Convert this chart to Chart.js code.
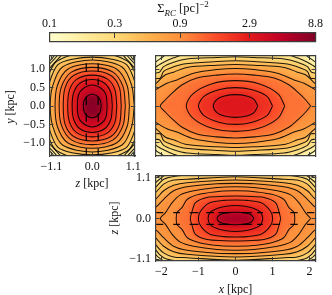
<!DOCTYPE html>
<html>
<head>
<meta charset="utf-8">
<script src="https://cdn.jsdelivr.net/npm/chart.js@4/dist/chart.umd.min.js"></script>
<style>
  html, body { margin: 0; padding: 0; background: #fff; }
  #page { position: relative; width: 332px; height: 295px; overflow: hidden; font-family: "Liberation Serif", serif; color: #111; }
  #page canvas { position: absolute; left: 0; top: 0; }
  .lbl { position: absolute; width: 60px; text-align: center; font-size: 12px; line-height: 12px; white-space: nowrap; }
</style>
</head>
<body>
<div id="page">
  <canvas id="cbar" width="332" height="295"></canvas>
  <canvas id="yz" width="332" height="295"></canvas>
  <canvas id="xy" width="332" height="295"></canvas>
  <canvas id="xz" width="332" height="295"></canvas>
  <div class="lbl" style="left:153px;top:2px;font-size:12.5px">Σ<sub style="font-size:9px;line-height:0"><i>RC</i></sub> [pc]<sup style="font-size:9px;line-height:0">−2</sup></div>
  <div class="lbl" style="left:-20px;top:101px;transform:rotate(-90deg)"><i>y</i> [kpc]</div>
  <div class="lbl" style="left:62px;top:177px"><i>z</i> [kpc]</div>
  <div class="lbl" style="left:84px;top:212px;transform:rotate(-90deg)"><i>z</i> [kpc]</div>
  <div class="lbl" style="left:205.5px;top:283px"><i>x</i> [kpc]</div>
</div>
<script>
// Contour levels (pc^-2), same for all three projections
const levels = [0.1, 0.14, 0.19, 0.26, 0.36, 0.49, 0.68, 0.93, 1.28, 1.76, 2.42, 3.33, 4.58, 6.3, 8.67];

// Colour bar
const barTicks = [0.1, 0.3, 0.9, 2.9, 8.8];
const barColors = ['#ffffcc', '#ffeda0', '#fed976', '#feb24c', '#fd8d3c', '#fc4e2a', '#e31a1c', '#bd0026', '#800026'];

// Tick positions
const ticksYZ_x = [-1.1, 0, 1.1];
const ticksYZ_y = [-1, -0.5, 0, 0.5, 1];
const ticksXY_x = [-2, -1, 0, 1, 2];
const ticksXZ_y = [-1.1, 0, 1.1];

// Quarter contours (first quadrant, kpc), innermost first.
// The maps are mirror symmetric so the other three quarters are flipped copies.
const levelIdxYZ = [13, 11, 10, 9, 8, 7, 6, 5, 4, 3, 2, 1, 0];
const contoursYZ = [
  [[.24,0],[.21,.17],[.12,.28],[0,.32]],
  [[.40,0],[.37,.3],[.25,.47],[0,.57]],
  [[.54,0],[.5,.36],[.33,.62],[0,.72]],
  [[.66,0],[.61,.44],[.41,.73],[0,.84]],
  [[.78,0],[.73,.5],[.5,.83],[0,.95]],
  [[.89,0],[.83,.52],[.56,.92],[0,1.05]],
  [[1.0,0],[.94,.55],[.66,1.0],[0,1.15]],
  [[1.13,0],[1.06,.56],[.8,1.06],[0,1.25]],
  [[1.28,0],[1.17,.58],[.93,1.12],[.5,1.28],[0,1.33]],
  [[1.45,0],[1.26,.62],[1.03,1.14],[.8,1.3],[.4,1.42],[0,1.45]],
  [[1.6,0],[1.36,.75],[1.1,1.08],[.9,1.3],[.7,1.5],[0,1.7]],
  [[1.8,0],[1.5,.8],[1.15,1.14],[.95,1.36],[.8,1.6],[0,1.9]],
  [[2,0],[1.6,.9],[1.15,1.22],[1.03,1.36],[.9,1.7],[0,2.1]],
];

const levelIdxXY = [10, 9, 8, 7, 6, 5, 4, 3, 2, 1];
const contoursXY = [
  [[.6,0],[.5,.18],[.3,.27],[0,.31]],
  [[1.0,0],[.85,.26],[.45,.44],[0,.5]],
  [[1.33,0],[1.15,.33],[.65,.6],[0,.69]],
  [[2.03,0],[1.89,.17],[1.71,.35],[1.44,.58],[1.04,.76],[.5,.84],[0,.87]],
  [[2.8,0],[2.16,.44],[1.85,.62],[1.58,.71],[1.13,.89],[.5,.99],[0,1.02]],
  [[2.8,0],[2.16,.6],[1.89,.85],[1.67,.92],[1.31,1.05],[.5,1.11],[0,1.13]],
  [[2.8,.2],[2.16,.74],[2.03,.76],[1.94,.94],[1.76,1.03],[1.4,1.14],[.5,1.21],[0,1.23]],
  [[2.8,.3],[2.16,.89],[2.05,.92],[1.94,1.07],[1.67,1.19],[1.31,1.28],[.5,1.32],[0,1.34]],
  [[2.8,.4],[2.16,1.05],[1.94,1.19],[1.67,1.31],[1.2,1.45],[0,1.55]],
  [[2.8,.5],[2.16,1.19],[1.98,1.32],[1.8,1.45],[1,1.8],[0,2]],
];

const levelIdxXZ = [12, 10, 9, 8, 7, 6, 6, 5, 4, 3, 2, 1];
const contoursXZ = [
  [[.5,0],[.42,.1],[.26,.15],[0,.17]],
  [[.74,0],[.68,.17],[.48,.28],[.25,.33],[0,.35]],
  [[1.0,0],[.98,.13],[.86,.3],[.68,.43],[.3,.49],[0,.5]],
  [[1.22,0],[1.17,.2],[1.08,.43],[.77,.57],[.3,.6],[0,.61]],
  [[1.6,0],[1.58,.16],[1.44,.3],[1.3,.52],[.95,.66],[.4,.74],[0,.75]],
  [[2.03,0],[1.89,.16],[1.71,.43],[1.49,.64],[1.13,.75],[.5,.84],[0,.86]],
  [[2.8,0],[2.16,.3],[1.94,.52],[1.67,.75],[1.31,.86],[.5,.94],[0,.95]],
  [[2.8,.1],[2.16,.52],[1.94,.75],[1.67,.9],[1.31,.97],[0,1.04]],
  [[2.8,.2],[2.16,.7],[1.94,.93],[1.67,1.04],[1.31,1.06],[0,1.13]],
  [[2.8,.3],[2.16,.84],[1.94,1.06],[1.58,1.15],[1,1.2],[0,1.25]],
  [[2.8,.4],[2.16,.97],[1.94,1.15],[1.6,1.35],[0,1.5]],
  [[2.8,.5],[2.16,1.09],[2.0,1.18],[1.7,1.5],[0,1.8]],
];

// Short contour breaks: vertical at z = +-0.16 in the y-z map (y from, y to)
const breaksYZ = [[.03,.25],[.57,.75],[.93,1.16],[-.43,-.2],[-.93,-.75],[-1.33,-1.15]];
const breakAtZ = [-.16, .16];
// horizontal at z = +-0.16 in the x-z map (x from, x to)
const breaksXZ = [[-2.14,-1.95],[-1.68,-1.5],[-1.24,-1.0],[-.79,-.58],[-.46,-.16],[.17,.44],[.58,.74],[1.0,1.2],[1.48,1.68],[1.93,2.13]];
const breakAtX = [-.16, .16];

const frameColor = '#3d3d3d';
const lineColor = 'rgba(0,0,0,0.88)';
const tickFont = { family: '"Liberation Serif", serif', size: 12 };

function hexToRgb(h) {
  return [1, 3, 5].map(i => parseInt(h.slice(i, i + 2), 16));
}

// colour of a value on the log colour bar
function colorFor(v) {
  const t = Math.log(v / barTicks[0]) / Math.log(barTicks[4] / barTicks[0]);
  const p = Math.min(Math.max(t, 0), 1) * (barColors.length - 1);
  const i = Math.min(Math.floor(p), barColors.length - 2);
  const a = hexToRgb(barColors[i]), b = hexToRgb(barColors[i + 1]);
  const c = a.map((n, k) => Math.round(n + (b[k] - n) * (p - i)));
  return `rgb(${c[0]},${c[1]},${c[2]})`;
}

// colour just below the next level up
function bandColor(idx) {
  const hi = levels[idx + 1] || levels[idx];
  return colorFor(levels[idx] * Math.pow(hi / levels[idx], 0.75));
}

// flip one quarter into a closed loop
function closeLoop(q) {
  const pts = [];
  q.forEach(p => pts.push({ x: p[0], y: p[1] }));
  q.slice(0, -1).reverse().forEach(p => pts.push({ x: -p[0], y: p[1] }));
  q.slice(1).forEach(p => pts.push({ x: -p[0], y: -p[1] }));
  q.slice(1, -1).reverse().forEach(p => pts.push({ x: p[0], y: -p[1] }));
  pts.push({ x: q[0][0], y: q[0][1] });
  return pts;
}

// Fills the nested contours, soft edged, before the lines go on top
const bandFill = {
  id: 'bandFill',
  beforeDatasetsDraw(chart) {
    const area = chart.chartArea;
    const ctx = chart.ctx;
    ctx.save();
    ctx.beginPath();
    ctx.rect(area.left, area.top, area.right - area.left, area.bottom - area.top);
    ctx.clip();
    ctx.fillStyle = colorFor(levels[0]);
    ctx.fillRect(area.left, area.top, area.right - area.left, area.bottom - area.top);
    ctx.filter = 'blur(2.6px)';
    for (let i = chart.data.datasets.length - 1; i >= 0; i--) {
      const ds = chart.data.datasets[i];
      if (!ds.bandColor) continue;
      const line = chart.getDatasetMeta(i).dataset;
      line.updateControlPoints(area, 'x');
      ctx.fillStyle = ds.bandColor;
      ctx.beginPath();
      line.path(ctx);
      ctx.fill();
    }
    ctx.restore();
  }
};

function fixedTicks(values) {
  return scale => { scale.ticks = values.map(v => ({ value: v })); };
}

function tickLabel(v, digits) {
  const s = Math.abs(v).toFixed(digits);
  return v < 0 ? '\u2212' + s : s;
}

function axis(position, range, ticks, size, labelled, pad, digits) {
  return {
    type: 'linear',
    position: position,
    min: -range,
    max: range,
    afterBuildTicks: fixedTicks(ticks),
    afterFit: s => {
      if (position === 'left' || position === 'right') s.width = size;
      else s.height = size;
    },
    border: { display: true, color: frameColor, width: 1.2, z: 2 },
    grid: { drawOnChartArea: false, drawTicks: true, tickLength: -4, tickColor: frameColor, tickWidth: 1, z: 1 },
    ticks: { display: labelled, autoSkip: false, maxRotation: 0, color: '#111', font: tickFont, padding: pad, callback: v => tickLabel(v, digits) },
    title: { display: false }
  };
}

// short straight pieces, one dataset each
function breakSegments(ranges, fixedAt, vertical) {
  const sets = [];
  fixedAt.forEach(f => ranges.forEach(r => {
    sets.push({
      data: r.map(v => (vertical ? { x: f, y: v } : { x: v, y: f })),
      showLine: true,
      tension: 0.001,
      pointRadius: 0,
      borderColor: 'rgba(0,0,0,0.92)',
      borderWidth: 1.3
    });
  }));
  return sets;
}

// box = plot rectangle in page pixels
function contourPanel(id, box, quarters, idx, rangeX, rangeY, ticksX, ticksY, showX, showY, digitsX, breaks) {
  const datasets = quarters.map((q, i) => ({
    data: closeLoop(q),
    showLine: true,
    tension: 0.3,
    capBezierPoints: false,
    pointRadius: 0,
    borderColor: lineColor,
    borderWidth: 1.05,
    bandColor: bandColor(idx[i])
  }));
  return new Chart(document.getElementById(id), {
    type: 'scatter',
    data: { datasets: (breaks || []).concat(datasets) },
    options: {
      responsive: false,
      animation: false,
      layout: { padding: 0 },
      plugins: { legend: { display: false }, tooltip: { enabled: false } },
      scales: {
        x: axis('bottom', rangeX, ticksX, 295 - box.bottom, showX, 8, digitsX),
        y: axis('left', rangeY, ticksY, box.left, showY, 8.5, 1),
        x2: axis('top', rangeX, ticksX, box.top, false, 0, 1),
        y2: axis('right', rangeY, ticksY, 332 - box.right, false, 0, 1)
      }
    },
    plugins: [bandFill]
  });
}

contourPanel('yz', { left: 49.5, right: 135, top: 56, bottom: 156 }, contoursYZ, levelIdxYZ, 1.15, 1.36, ticksYZ_x, ticksYZ_y, true, true, 1, breakSegments(breaksYZ, breakAtZ, true));
contourPanel('xy', { left: 155.5, right: 315.5, top: 56, bottom: 156 }, contoursXY, levelIdxXY, 2.16, 1.36, ticksXY_x, ticksYZ_y, false, false, 0);
contourPanel('xz', { left: 155.5, right: 315.5, top: 176, bottom: 261 }, contoursXZ, levelIdxXZ, 2.16, 1.15, ticksXY_x, ticksXZ_y, true, true, 0, breakSegments(breaksXZ, breakAtX, false));

// Colour bar: one floating bar on a log axis, painted with the map
const barCtx = document.getElementById('cbar').getContext('2d');
const barGrad = barCtx.createLinearGradient(49.5, 0, 315.5, 0);
barColors.forEach((c, i) => barGrad.addColorStop(i / (barColors.length - 1), c));

new Chart(barCtx, {
  type: 'bar',
  data: {
    labels: ['map'],
    datasets: [{ data: [[barTicks[0], barTicks[4]]], backgroundColor: barGrad, barPercentage: 1, categoryPercentage: 1, borderWidth: 0 }]
  },
  options: {
    indexAxis: 'y',
    responsive: false,
    animation: false,
    layout: { padding: 0 },
    plugins: { legend: { display: false }, tooltip: { enabled: false } },
    scales: {
      x: {
        type: 'logarithmic',
        position: 'top',
        min: barTicks[0],
        max: barTicks[4],
        afterBuildTicks: fixedTicks(barTicks),
        afterFit: s => { s.height = 33; },
        border: { display: true, color: frameColor, width: 1.2, z: 2 },
        grid: { drawOnChartArea: false, tickLength: -5, tickColor: frameColor, tickWidth: 1, z: 1 },
        ticks: { autoSkip: false, maxRotation: 0, color: '#111', font: tickFont, padding: 7, callback: v => v.toFixed(1) }
      },
      y: {
        position: 'left',
        afterFit: s => { s.width = 49.5; },
        border: { display: true, color: frameColor, width: 1.2, z: 2 },
        grid: { display: false },
        ticks: { display: false }
      },
      x2: {
        type: 'linear',
        position: 'bottom',
        afterFit: s => { s.height = 295 - 41.5; },
        afterBuildTicks: fixedTicks([]),
        border: { display: true, color: frameColor, width: 1.2, z: 2 },
        grid: { display: false },
        ticks: { display: false }
      },
      y2: {
        type: 'linear',
        position: 'right',
        afterFit: s => { s.width = 332 - 315.5; },
        afterBuildTicks: fixedTicks([]),
        border: { display: true, color: frameColor, width: 1.2, z: 2 },
        grid: { display: false },
        ticks: { display: false }
      }
    }
  }
});
</script>
</body>
</html>
